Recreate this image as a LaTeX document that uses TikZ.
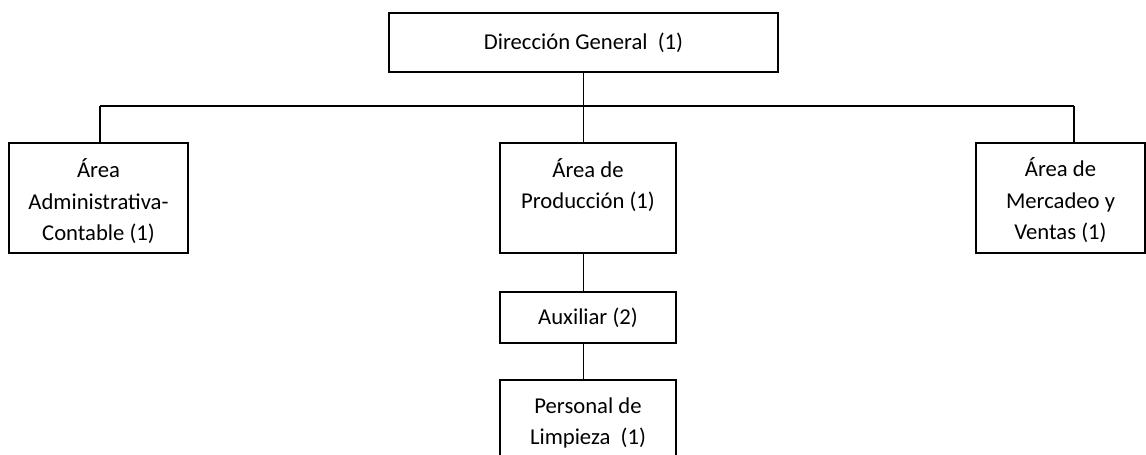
\documentclass[tikz,border=0pt]{standalone}
\usepackage{fontspec}
\setmainfont{Carlito}
\begin{document}
\begin{tikzpicture}[x=0.75pt,y=-0.75pt,
  box/.style={draw, line width=1.1pt, inner sep=0pt, align=center,
              font=\fontsize{17}{23.6}\selectfont},
  txt/.style={inner sep=0pt, align=center, font=\fontsize{17}{23.6}\selectfont},
  link/.style={line width=1.2pt}]
\clip (0,0) rectangle (1146,454);
\useasboundingbox (0,0) rectangle (1146,454);

% top of the chart
\node[box, minimum width=291.75pt, minimum height=44.25pt] (dir) at (583.5,42.5)
  {Dirección General~~(1)};

% second level
\node[box, minimum width=134.25pt, minimum height=82.5pt] (adm) at (98.5,198) {};
\node[txt] (admtxt) at (98.5,201.5) {Área\\Administrativa-\\Contable (1)};
\node[box, minimum width=132pt, minimum height=82.5pt] (prod) at (588,198) {};
\node[txt] (prodtxt) at (588,185) {Área de\\Producción (1)};
\node[box, minimum width=126.75pt, minimum height=82.5pt] (mkt) at (1060.5,198) {};
\node[txt] (mkttxt) at (1060.5,200.5) {Área de\\Mercadeo y\\Ventas (1)};

% production branch
\node[box, minimum width=132pt, minimum height=38.25pt] (aux) at (588,317.5)
  {Auxiliar (2)};
\node[box, minimum width=132pt, minimum height=75pt] (pers) at (588,430) {};
\node[txt] (perstxt) at (588,423) {Personal de\\Limpieza~~(1)};

% connectors
\coordinate (busL) at (100,106);
\coordinate (busR) at (1074,106);
\draw[link] (dir.south) -- (dir.south |- prod.north);
\draw[link] (busL) -- (busR);
\draw[link] (busL) -- (busL |- adm.north);
\draw[link] (busR) -- (busR |- mkt.north);
\draw[link] (prod.south -| dir.south) -- (aux.north -| dir.south);
\draw[link] (aux.south -| dir.south) -- (pers.north -| dir.south);
\end{tikzpicture}
\end{document}
